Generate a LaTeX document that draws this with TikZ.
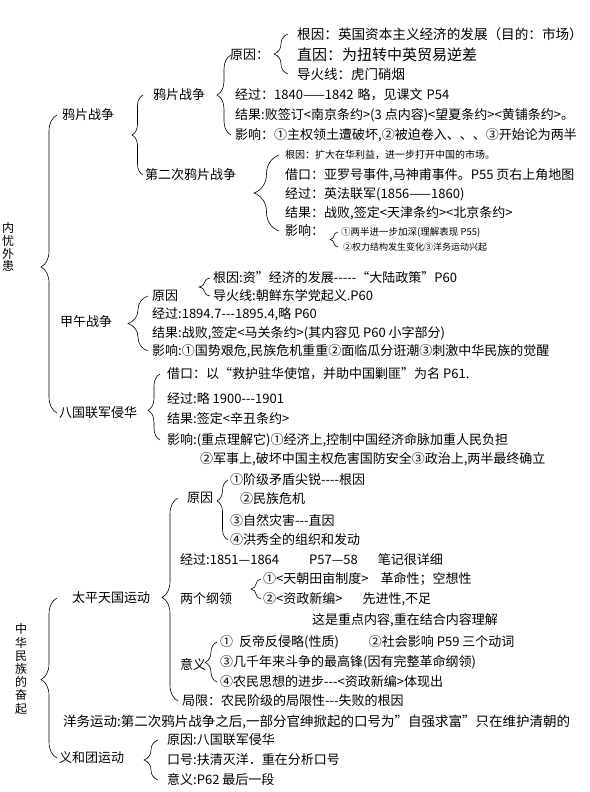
\documentclass[tikz,border=0pt]{standalone}
\usepackage{fontspec}
\newfontfamily\zhfont{Noto Sans CJK SC}
\usetikzlibrary{decorations.pathreplacing,calc}

\begin{document}
\begin{tikzpicture}[x=1pt,y=-1pt,
  txt/.style={anchor=west,inner sep=0pt,font=\zhfont\fontsize{13}{13}\selectfont},
  fs/.style={font=\zhfont\fontsize{#1}{#1}\selectfont},
  vert/.style={inner sep=0pt,align=center,font=\zhfont\fontsize{12}{12.8}\selectfont},
  brc/.style 2 args={decorate,decoration={brace,amplitude=#1,aspect=#2},line width=0.6pt}]
\useasboundingbox[fill=white] (0,0) rectangle (589,792);

\node[vert] (neiyou) at (8,247) {内\\忧\\外\\患};
\node[txt] (yapian) at (62,115) {鸦片战争};
\node[txt] (jiawu) at (60,322) {甲午战争};
\node[txt] (baguo) at (59,413) {八国联军侵华};

\node[txt] (yapianB) at (153,95) {鸦片战争};
\node[txt] (erci) at (145,175) {第二次鸦片战争};

\node[txt] (ypYuan) at (230,55) {原因：};
\node[txt,fs=13.6] (ypGen) at (297,34) {根因：英国资本主义经济的发展（目的：市场）};
\node[txt,fs=15] (ypZhi) at (297,55) {直因：为扭转中英贸易逆差};
\node[txt,fs=13.5] (ypDao) at (297,74) {导火线：虎门硝烟};
\node[txt] (ypJing) at (235,95) {经过：1840——1842\hspace{4pt}略，见课文\hspace{4pt}P54};
\node[txt] (ypJieguo) at (235,115) {结果:败签订<南京条约>(3 点内容)<望夏条约><黄铺条约>。};
\node[txt] (ypYing) at (235,135) {影响：①主权领土遭破坏,②被迫卷入、、、③开始论为两半};

\node[txt,fs=10] (erGen) at (285,155) {根因：扩大在华利益，进一步打开中国的市场。};
\node[txt] (erJiekou) at (285,175) {借口：亚罗号事件,马神甫事件。P55 页右上角地图};
\node[txt] (erJing) at (285,194) {经过：英法联军(1856——1860)};
\node[txt] (erJieguo) at (285,213) {结果：战败,签定<天津条约><北京条约>};
\node[txt] (erYing) at (285,231) {影响：};
\node[txt,fs=9.5] (erA) at (341,232) {①两半进一步加深(理解表现 P55)};
\node[txt,fs=9] (erB) at (343,247) {②权力结构发生变化③洋务运动兴起};

\node[txt] (jwYuan) at (152,296) {原因};
\node[txt] (jwGen) at (213,278) {根因:资”经济的发展-----“大陆政策”P60};
\node[txt] (jwDao) at (213,296) {导火线:朝鲜东学党起义.P60};
\node[txt] (jwJing) at (152,314) {经过:1894.7---1895.4,略 P60};
\node[txt] (jwJieguo) at (152,333) {结果:战败,签定<马关条约>(其内容见 P60 小字部分)};
\node[txt] (jwYing) at (152,351) {影响:①国势艰危,民族危机重重②面临瓜分诳潮③刺激中华民族的觉醒};

\node[txt] (bgJiekou) at (167,374) {借口：以“救护驻华使馆，并助中国剿匪”为名 P61.};
\node[txt] (bgJing) at (167,398) {经过:略 1900---1901};
\node[txt] (bgJieguo) at (167,419) {结果:签定<辛丑条约>};
\node[txt] (bgYing) at (167,440) {影响:(重点理解它)①经济上,控制中国经济命脉加重人民负担};
\node[txt] (bgYingB) at (200,459) {②军事上,破坏中国主权危害国防安全③政治上,两半最终确立};

\node[vert,font=\zhfont\fontsize{12}{13.2}\selectfont] (fenqi) at (21,669) {中\\华\\民\\族\\的\\奋\\起};
\node[txt] (taiping) at (72,598) {太平天国运动};
\node[txt,fs=13.5] (yangwu) at (63,722) {洋务运动:第二次鸦片战争之后,一部分官绅掀起的口号为”自强求富”只在维护清朝的};
\node[txt] (yihe) at (59,758) {义和团运动};

\node[txt] (tpYuan) at (187,498) {原因};
\node[txt] (tpA) at (230,480) {①阶级矛盾尖锐----根因};
\node[txt] (tpB) at (240,499) {②民族危机};
\node[txt] (tpC) at (230,521) {③自然灾害---直因};
\node[txt] (tpD) at (230,540) {④洪秀全的组织和发动};
\node[txt] (tpJing) at (180,560) {经过:1851—1864\hspace{30pt}P57—58\hspace{20pt}笔记很详细};
\node[txt] (glLabel) at (180,599) {两个纲领};
\node[txt] (glA) at (263,579) {①<天朝田亩制度>\hspace{12pt}革命性；空想性};
\node[txt] (glB) at (263,599) {②<资政新编>\hspace{20pt}先进性,不足};
\node[txt] (glNote) at (312,620) {这是重点内容,重在结合内容理解};
\node[txt] (yyLabel) at (180,664) {意义};
\node[txt] (yyA) at (220,642) {①\hspace{6pt}反帝反侵略(性质)\hspace{30pt}②社会影响 P59 三个动词};
\node[txt] (yyB) at (220,662) {③几千年来斗争的最高锋(因有完整革命纲领)};
\node[txt] (yyC) at (220,682) {④农民思想的进步---<资政新编>体现出};
\node[txt] (tpXian) at (182,701) {局限：农民阶级的局限性---失败的根因};

\node[txt] (yhYuan) at (167,740) {原因:八国联军侵华};
\node[txt] (yhKou) at (167,760) {口号:扶清灭洋．重在分析口号};
\node[txt] (yhYi) at (167,780) {意义:P62 最后一段};

\draw[brc={16pt}{0.49}] ([xshift=-2pt]baguo.west) -- ([xshift=-2pt]baguo.west |- yapian.west);
\draw[brc={11pt}{0.5}] ([xshift=-2pt]erci.west) -- ([xshift=-2pt]erci.west |- yapianB.west);
\draw[brc={14pt}{0.5}] ([xshift=-4pt]ypYing.west) -- ([xshift=-4pt]ypYing.west |- ypYuan.west);
\draw[brc={14pt}{0.5}] ([xshift=-9pt]ypDao.west) -- ([xshift=-9pt]ypDao.west |- ypGen.west);
\draw[brc={25pt}{0.5}] ([xshift=-6pt]erYing.west) -- ([xshift=-6pt]erYing.west |- erGen.west);
\draw[brc={8pt}{0.5}] ([xshift=-3pt]erA.west |- erB.west) -- ([xshift=-3pt]erA.west);
\draw[brc={20pt}{0.5}] ([xshift=-4pt]jwYing.west) -- ([xshift=-4pt]jwYing.west |- jwYuan.west);
\draw[brc={11pt}{0.5}] ([xshift=-3pt]jwDao.west) -- ([xshift=-3pt]jwDao.west |- jwGen.west);
\draw[brc={12pt}{0.45}] ([xshift=-7pt]bgYing.west) -- ([xshift=-7pt]bgYing.west |- bgJiekou.west);
\draw[brc={16pt}{0.49}] ([xshift=-2pt]yihe.west) -- ([xshift=-2pt]yihe.west |- taiping.west);
\draw[brc={16pt}{0.51}] ([xshift=-4pt]tpXian.west) -- ([xshift=-4pt]tpXian.west |- tpYuan.west);
\draw[brc={11pt}{0.65}] ([xshift=-2pt]tpD.west) -- ([xshift=-2pt]tpD.west |- tpA.west);
\draw[brc={10pt}{0.5}] ([xshift=-2pt]glB.west) -- ([xshift=-2pt]glB.west |- glA.west);
\draw[brc={12pt}{0.49}] ([xshift=-3pt]yyC.west) -- ([xshift=-3pt]yyC.west |- yyA.west);
\draw[brc={14pt}{0.5}] ([xshift=-9pt]yhYi.west) -- ([xshift=-9pt]yhYi.west |- yhYuan.west);
\end{tikzpicture}
\end{document}
